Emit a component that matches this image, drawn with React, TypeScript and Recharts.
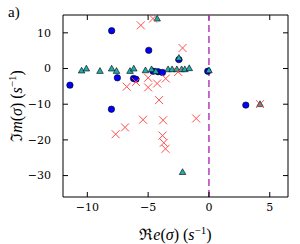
import {
  ReferenceLine,
  Scatter,
  ScatterChart,
  XAxis,
  YAxis,
  Label,
} from 'recharts'

// blue circles
const circleRe = [-11.43, -8.0, -7.53, -6.2, -6.0, -4.95, -4.6, -4.18, -3.82, -2.47, -0.1, -8.02, 3.03]
const circleIm = [-4.66, 10.6, -2.6, -2.8, -3.0, 5.1, -0.75, -0.9, -1.1, 2.5, -0.75, -11.4, -10.25]

// teal triangles
const triRe = [-10.47, -10.08, -8.96, -8.0, -7.6, -6.49, -6.18, -5.22, -4.72, -4.37, -3.36, -3.03, -2.64, -2.25, -1.98, -1.62, -2.47, -4.26, 0.0, -2.17, 4.2]
const triIm = [-0.56, 0.0, -0.67, 0.0, -0.67, -0.67, 0.0, -0.5, -0.2, -0.75, -0.2, -0.2, -0.2, -0.2, -0.2, 0.1, 3.0, 14.0, -0.5, -29.0, -9.97]

// red crosses
const crossRe = [-5.6, -4.6, -2.17, -6.76, -6.0, -5.0, -5.0, -4.26, -3.55, -2.53, -4.1, -7.67, -6.9, -5.42, -3.77, -3.82, -3.71, -3.57, -1.05, 4.2]
const crossIm = [12.1, 14.0, 5.75, -5.1, -3.75, -2.6, -5.3, -4.2, -2.8, -0.95, -8.85, -18.4, -16.5, -14.35, -14.5, -18.8, -20.8, -22.5, -14.0, -9.97]

const xTicks = [-10, -5, 0, 5]
const yTicks = [-30, -20, -10, 0, 10]
const xDomain = [-12, 6.5]
const yDomain = [-36, 15]

const zip = (xs: number[], ys: number[]) => xs.map((x, i) => ({ x, y: ys[i] }))

const circles = zip(circleRe, circleIm)
const triangles = zip(triRe, triIm)
const crosses = zip(crossRe, crossIm)

const minus = (v: number) => String(v).replace('-', '\u2212')

const serif = "'DejaVu Serif', serif"
const tickFont = { fontFamily: serif, fontSize: 11, fill: '#000' }
const labelFont = "'Liberation Serif', 'DejaVu Serif', serif"

// inward tick length for the top / right frame, in data units (~5px)
const tickLenX = (xDomain[1] - xDomain[0]) * 5 / 225
const tickLenY = (yDomain[1] - yDomain[0]) * 5 / 182

const Dot = (p: any) => (
  <circle cx={p.cx} cy={p.cy} r={3.2} fill="#0000ff" stroke="#000" strokeWidth={0.6} />
)

const Tri = (p: any) => {
  const s = 3.3
  return (
    <path
      d={`M${p.cx},${p.cy - s}L${p.cx + s},${p.cy + s * 0.75}L${p.cx - s},${p.cy + s * 0.75}Z`}
      fill="#22abab"
      stroke="#000"
      strokeWidth={0.6}
    />
  )
}

const Cross = (p: any) => {
  const s = 4
  const { cx, cy } = p
  return (
    <path
      d={`M${cx - s},${cy - s}L${cx + s},${cy + s}M${cx - s},${cy + s}L${cx + s},${cy - s}`}
      stroke="#ff4d4d"
      strokeWidth={1}
      fill="none"
    />
  )
}

const XLabel = ({ viewBox }: any) => (
  <text
    x={viewBox.x + viewBox.width / 2}
    y={240}
    textAnchor="middle"
    fontFamily={labelFont}
    fontSize={16}
  >
    <tspan>ℜ</tspan>
    <tspan fontStyle="italic">e</tspan>
    <tspan>(</tspan>
    <tspan fontStyle="italic">σ</tspan>
    <tspan>)  (</tspan>
    <tspan fontStyle="italic">s</tspan>
    <tspan fontSize={11} dy={-6}>−1</tspan>
    <tspan dy={6}>)</tspan>
  </text>
)

const YLabel = ({ viewBox }: any) => {
  const cy = viewBox.y + viewBox.height / 2
  return (
    <g>
      <text x={8} y={17} fontFamily={labelFont} fontSize={15}>a)</text>
      <text
        x={22}
        y={cy}
        transform={`rotate(-90, 22, ${cy})`}
        textAnchor="middle"
        fontFamily={labelFont}
        fontSize={16}
      >
        <tspan>ℑ</tspan>
        <tspan fontStyle="italic">m</tspan>
        <tspan>(</tspan>
        <tspan fontStyle="italic">σ</tspan>
        <tspan>)  (</tspan>
        <tspan fontStyle="italic">s</tspan>
        <tspan fontSize={11} dy={-6}>−1</tspan>
        <tspan dy={6}>)</tspan>
      </text>
    </g>
  )
}

export default function App() {
  return (
    <div
      style={{
        position: 'absolute',
        left: 0,
        top: 0,
        width: 300,
        height: 244,
        background: '#fff',
        fontFamily: serif,
      }}
    >
      <ScatterChart width={300} height={244} margin={{ top: 15, right: 12, bottom: 0, left: 0 }}>
        <XAxis
          type="number"
          dataKey="x"
          domain={xDomain}
          ticks={xTicks}
          allowDataOverflow
          height={47}
          tickSize={-5}
          tickMargin={11}
          tickFormatter={minus}
          tick={tickFont}
          stroke="#000"
        >
          <Label content={XLabel} />
        </XAxis>
        <YAxis
          type="number"
          dataKey="y"
          domain={yDomain}
          ticks={yTicks}
          allowDataOverflow
          width={63}
          tickSize={-5}
          tickMargin={17}
          tickFormatter={minus}
          tick={tickFont}
          stroke="#000"
        >
          <Label content={YLabel} />
        </YAxis>
        {/* top and right edges of the frame */}
        <ReferenceLine y={yDomain[1]} stroke="#000" strokeWidth={1} ifOverflow="visible" />
        <ReferenceLine x={xDomain[1]} stroke="#000" strokeWidth={1} ifOverflow="visible" />
        {xTicks.map((t) => (
          <ReferenceLine
            key={`tx${t}`}
            segment={[{ x: t, y: yDomain[1] }, { x: t, y: yDomain[1] - tickLenY }]}
            stroke="#000"
            ifOverflow="visible"
          />
        ))}
        {yTicks.map((t) => (
          <ReferenceLine
            key={`ty${t}`}
            segment={[{ x: xDomain[1], y: t }, { x: xDomain[1] - tickLenX, y: t }]}
            stroke="#000"
            ifOverflow="visible"
          />
        ))}
        <ReferenceLine x={0} stroke="#b53cbb" strokeWidth={1.5} strokeDasharray="7 4" />
        <Scatter data={circles} shape={Dot} isAnimationActive={false} />
        <Scatter data={triangles} shape={Tri} isAnimationActive={false} />
        <Scatter data={crosses} shape={Cross} isAnimationActive={false} />
      </ScatterChart>
    </div>
  )
}
